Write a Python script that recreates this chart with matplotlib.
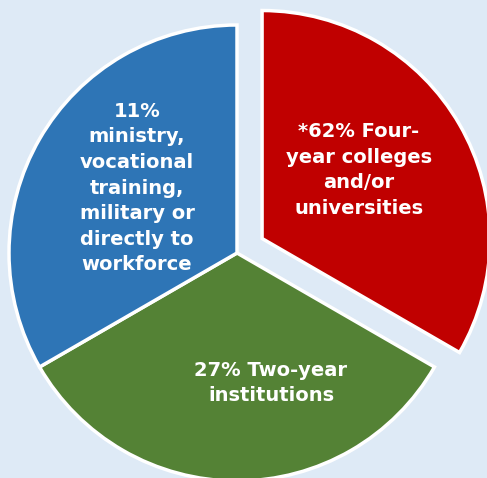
import matplotlib.pyplot as plt

# slice sizes as drawn (three equal wedges), labels as printed
sizes = [1, 1, 1]
labels = [
    "*62% Four-\nyear colleges\nand/or\nuniversities",
    "27% Two-year\ninstitutions",
    "11%\nministry,\nvocational\ntraining,\nmilitary or\ndirectly to\nworkforce",
]
colors = ["#C00000", "#548235", "#2E75B6"]

W, H = 487, 478
fig = plt.figure(figsize=(W / 100, H / 100), dpi=100, facecolor="#DEEAF6")
ax = fig.add_axes([0, 0, 1, 1])
ax.set_facecolor("#DEEAF6")

cx, cy, r = 237, H - 253, 228
explode = [0.127 * r, 0, 0]
ax.pie(
    sizes,
    colors=colors,
    explode=explode,
    startangle=90,
    counterclock=False,
    center=(cx, cy),
    radius=r,
    wedgeprops=dict(edgecolor="white", linewidth=2.5),
)
ax.set_xlim(0, W)
ax.set_ylim(0, H)
ax.set_aspect("equal", adjustable="box")
ax.axis("off")

# label positions in pixel space (x, y from top)
label_pos = [(359, 170), (271, 383), (137, 188)]
for text, (x, y) in zip(labels, label_pos):
    ax.text(x, H - y, text, color="white", fontsize=14, fontweight="bold",
            family="DejaVu Sans", ha="center", va="center", linespacing=1.44)

fig.savefig("out.png", dpi=100, facecolor=fig.get_facecolor())
